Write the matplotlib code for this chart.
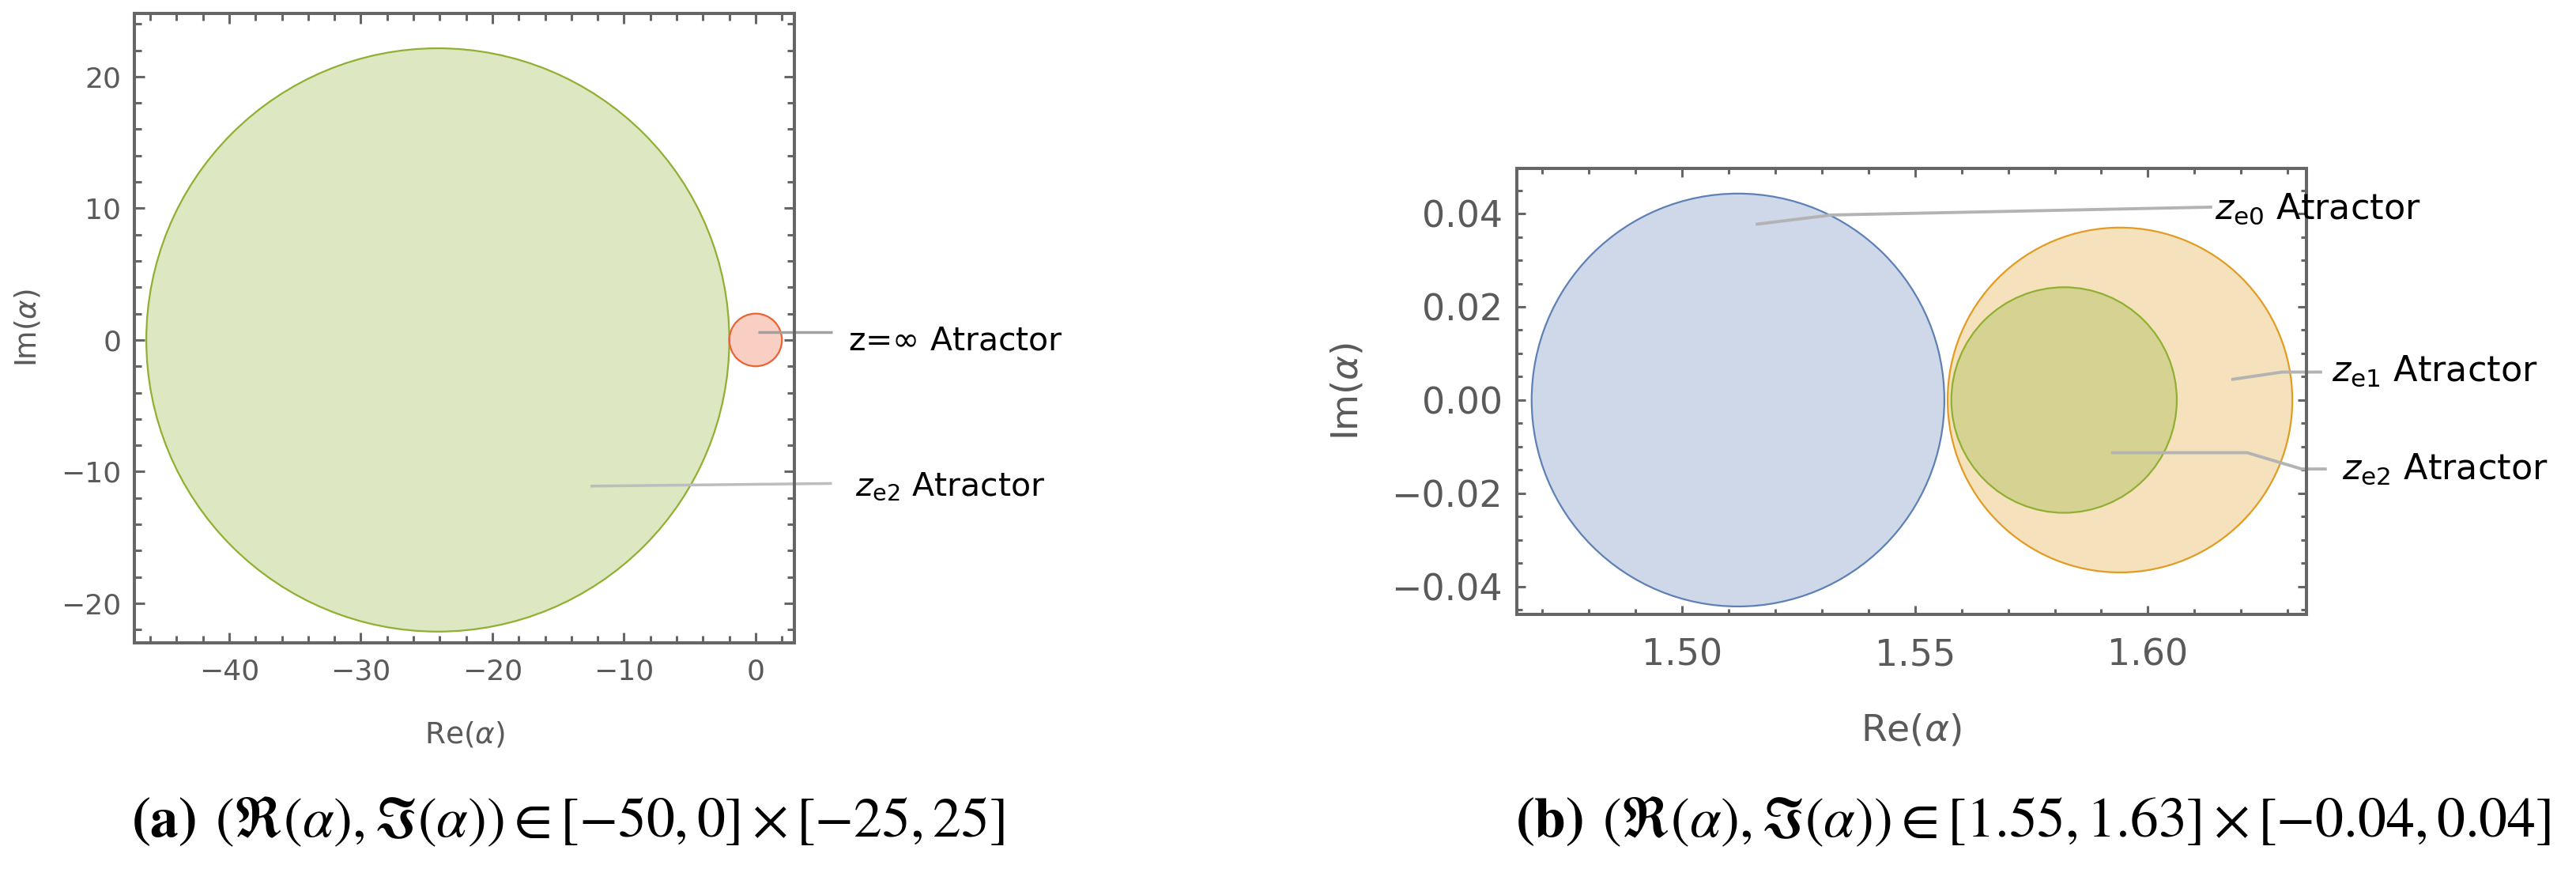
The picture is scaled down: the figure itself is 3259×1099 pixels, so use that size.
import matplotlib.pyplot as plt
from matplotlib.patches import Circle
from matplotlib.ticker import MultipleLocator

plt.rcParams['mathtext.fontset'] = 'dejavusans'

# ---- panel (a) data ----
a_centers = [(-24.15, 0.0), (0.0, 0.0)]
a_radii = [22.15, 2.0]
a_colors = ['#8fb032', '#eb6235']
a_xlim = (-47.2, 2.95)
a_ylim = (-23.0, 24.8)

# callouts: leader line points and label position
a_lines = [([0.2, 5.8], [0.6, 0.6]),
           ([-12.55, 5.8], [-11.1, -10.9])]
a_line_cols = ['#a0a0a0', '#bdbdbd']
a_labels = [r'z=$\infty$ Atractor', r'$z_{\rm e2}$ Atractor']
a_label_pos = [(7.0, -0.75), (7.6, -11.8)]

# ---- panel (b) data ----
b_centers = [(1.512, 0.0), (1.594, 0.0), (1.582, 0.0)]
b_radii = [0.0443, 0.0370, 0.0242]
b_colors = ['#5e81b5', '#e19c24', '#8fb032']
b_xlim = (1.4645, 1.634)
b_ylim = (-0.0460, 0.0497)

b_lines = [([1.5158, 1.532, 1.6138], [0.0377, 0.0397, 0.0414]),
           ([1.6179, 1.6288, 1.6374], [0.0044, 0.0060, 0.0060]),
           ([1.5921, 1.6213, 1.6330, 1.6384], [-0.0113, -0.0113, -0.0148, -0.0148])]
b_labels = [r'$z_{\rm e0}$ Atractor', r'$z_{\rm e1}$ Atractor', r'$z_{\rm e2}$ Atractor']
b_label_pos = [(1.6144, 0.0389), (1.6394, 0.0041), (1.6416, -0.0169)]

frame_col = '#666666'
lab_col = '#5a5a5a'


def style_axes(ax, fs, major_x, minor_x, major_y, minor_y, padx, pady, lmaj, lmin):
    for sp in ax.spines.values():
        sp.set_color(frame_col)
        sp.set_linewidth(2.9)
    ax.xaxis.set_major_locator(MultipleLocator(major_x))
    ax.xaxis.set_minor_locator(MultipleLocator(minor_x))
    ax.yaxis.set_major_locator(MultipleLocator(major_y))
    ax.yaxis.set_minor_locator(MultipleLocator(minor_y))
    ax.tick_params(which='both', direction='in', top=True, right=True,
                   color=frame_col, width=2.2, labelcolor=lab_col, labelsize=fs)
    ax.tick_params(which='major', length=lmaj)
    ax.tick_params(which='minor', length=lmin)
    ax.tick_params(axis='x', pad=padx)
    ax.tick_params(axis='y', pad=pady)


fig = plt.figure(figsize=(32.59, 10.99), dpi=100)

# panel (a)
ax1 = fig.add_axes([0.0522, 0.2603, 0.2562, 0.7243])
for c, r, col in zip(a_centers, a_radii, a_colors):
    ax1.add_patch(Circle(c, r, facecolor=col, alpha=0.3, lw=0))
    ax1.add_patch(Circle(c, r, facecolor='none', edgecolor=col, lw=1.6))
ax1.set_xlim(*a_xlim)
ax1.set_ylim(*a_ylim)
style_axes(ax1, 26, 10, 2, 10, 2, 14, 12, 9.5, 6.3)
ax1.set_xticks([-40, -30, -20, -10, 0])
ax1.set_xticklabels(['\u221240', '\u221230', '\u221220', '\u221210', '0'])
ax1.set_yticks([-20, -10, 0, 10, 20])
ax1.set_yticklabels(['\u221220', '\u221210', '0', '10', '20'])
ax1.set_xlabel(r'Re($\alpha$)', fontsize=27, color=lab_col)
ax1.set_ylabel(r'Im($\alpha$)', fontsize=27, color=lab_col)
ax1.xaxis.set_label_coords(0.5, -0.122)
ax1.yaxis.set_label_coords(-0.140, 0.5)
for (xs, ys), col in zip(a_lines, a_line_cols):
    ax1.plot(xs, ys, color=col, lw=2.5, clip_on=False, solid_capstyle='butt')
for s, (x, y) in zip(a_labels, a_label_pos):
    ax1.text(x, y, s, fontsize=29.5, va='baseline', ha='left', clip_on=False)

# panel (b)
ax2 = fig.add_axes([0.5888, 0.2930, 0.3065, 0.5132])
for c, r, col in zip(b_centers, b_radii, b_colors):
    ax2.add_patch(Circle(c, r, facecolor=col, alpha=0.3, lw=0))
    ax2.add_patch(Circle(c, r, facecolor='none', edgecolor=col, lw=1.6))
ax2.set_xlim(*b_xlim)
ax2.set_ylim(*b_ylim)
style_axes(ax2, 33, 0.05, 0.01, 0.02, 0.005, 21, 13, 8, 4.8)
ax2.set_xticks([1.50, 1.55, 1.60])
ax2.set_xticklabels(['1.50', '1.55', '1.60'])
ax2.set_yticks([-0.04, -0.02, 0.0, 0.02, 0.04])
ax2.set_yticklabels(['\u22120.04', '\u22120.02', '0.00', '0.02', '0.04'])
ax2.set_xlabel(r'Re($\alpha$)', fontsize=34, color=lab_col)
ax2.set_ylabel(r'Im($\alpha$)', fontsize=34, color=lab_col)
ax2.xaxis.set_label_coords(0.5, -0.2216)
ax2.yaxis.set_label_coords(-0.192, 0.5)
for xs, ys in b_lines:
    ax2.plot(xs, ys, color='#b3b3b3', lw=2.8, clip_on=False, solid_capstyle='butt')
for s, (x, y) in zip(b_labels, b_label_pos):
    ax2.text(x, y, s, fontsize=32, va='baseline', ha='left', clip_on=False)

# captions
fig.text(0.0509, 0.0373,
         r'$\mathbf{(a)}$ $(\Re(\alpha),\Im(\alpha))\in[-50,0]\times[-25,25]$',
         fontsize=51.5, math_fontfamily='stix', ha='left', va='baseline')
fig.text(0.5882, 0.0373,
         r'$\mathbf{(b)}$ $(\Re(\alpha),\Im(\alpha))\in[1.55,1.63]\times[-0.04,0.04]$',
         fontsize=51.5, math_fontfamily='stix', ha='left', va='baseline')

fig.savefig('out.png', dpi=100)
